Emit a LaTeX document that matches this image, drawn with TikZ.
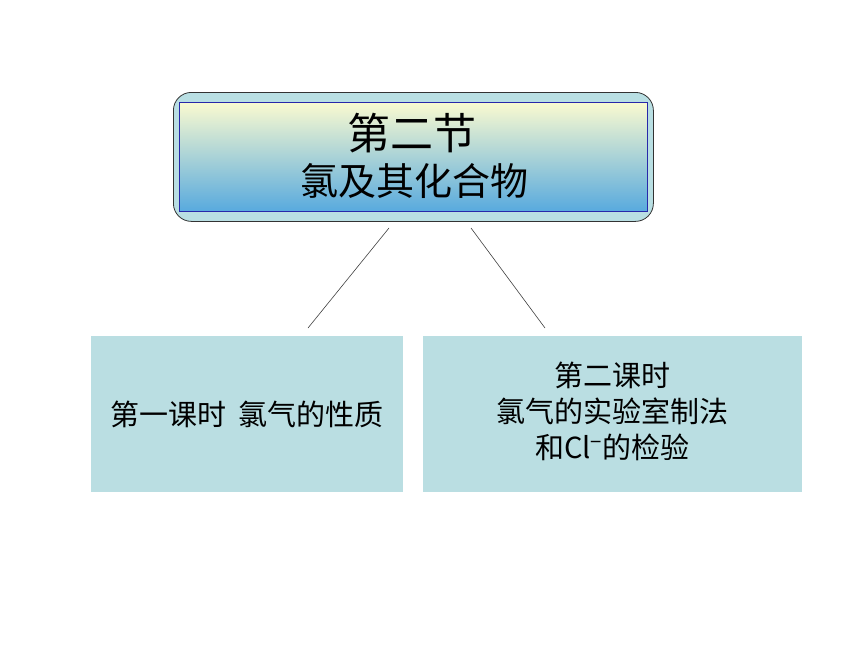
\documentclass[tikz,border=0pt]{standalone}
\usepackage{fontspec}
\setmainfont{Noto Sans CJK SC}
\definecolor{outerblue}{RGB}{185,223,227}
\definecolor{boxblue}{RGB}{186,222,226}
\definecolor{innerborder}{RGB}{40,40,170}
\definecolor{gtop}{RGB}{250,250,208}
\definecolor{gmid}{RGB}{212,234,214}
\definecolor{gbot}{RGB}{88,170,222}
\tikzset{
  lessonbox/.style={fill=boxblue, draw=none, inner sep=0pt, align=center,
    font=\fontsize{29}{36}\selectfont},
  link/.style={draw=black!75, line width=0.6pt}
}
\begin{document}
\begin{tikzpicture}[x=1pt,y=-1pt]
\useasboundingbox (0,0) rectangle (860,645);
\node[draw=black!80, fill=outerblue, rounded corners=18pt, line width=0.8pt,
      minimum width=480pt, minimum height=129pt, inner sep=0pt, anchor=north west] (top) at (173,92) {};
\node[draw=innerborder, top color=gtop, middle color=gmid, bottom color=gbot, line width=0.6pt,
      minimum width=468pt, minimum height=109pt, inner sep=0pt, anchor=north west] (inner) at (179,102) {};
\node[font=\fontsize{43}{43}\selectfont, inner sep=0pt] (t1) at (412,133) {第二节};
\node[font=\fontsize{38}{38}\selectfont, inner sep=0pt] (t2) at (414,181) {氯及其化合物};
\node[lessonbox, minimum width=312pt, minimum height=156pt] (b1) at (247,414) {第一课时\hspace{12pt}氯气的性质};
\node[lessonbox, minimum width=379pt, minimum height=156pt] (b2) at (612.5,414) {};
\node[inner sep=0pt, align=center, font=\fontsize{29}{36}\selectfont] (b2t) at (612.5,411) {第二课时\\氯气的实验室制法\\和Cl\textsuperscript{−}的检验};
\coordinate (s1) at (389,228);
\coordinate (e1) at (308,328);
\coordinate (s2) at (471,228);
\coordinate (e2) at (545,328);
\draw[link] (s1) -- (e1);
\draw[link] (s2) -- (e2);
\end{tikzpicture}
\end{document}
